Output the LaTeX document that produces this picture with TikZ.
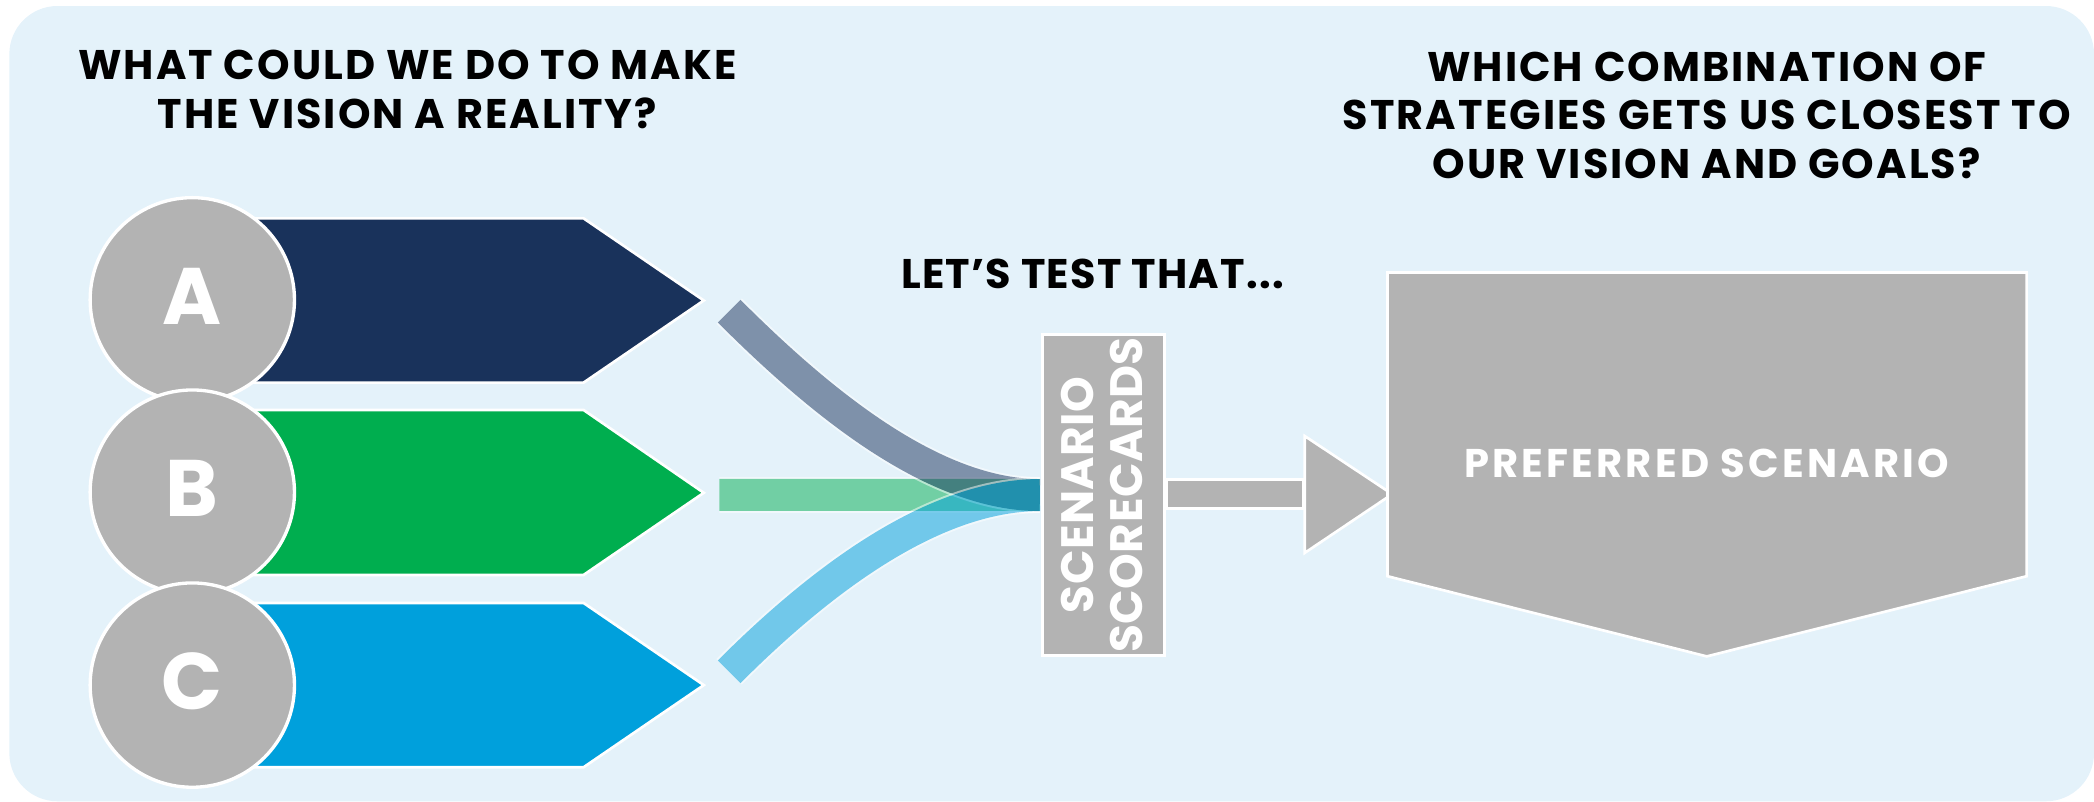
\documentclass[tikz,border=0pt]{standalone}
\usepackage{fontspec}
\setmainfont{Poppins}
\usetikzlibrary{calc}
\definecolor{bgblue}{HTML}{E4F2FA}
\definecolor{greyfill}{HTML}{B3B3B3}
\definecolor{navyA}{HTML}{19325B}
\definecolor{greenB}{HTML}{00AE4F}
\definecolor{blueC}{HTML}{00A0DC}
\begin{document}
\begin{tikzpicture}[x=1pt,y=-1pt,
  title/.style={font=\fontsize{31}{36.5}\selectfont\bfseries\addfontfeatures{LetterSpace=5}, align=center, text=black, inner sep=0, anchor=north},
  greyshape/.style={fill=greyfill, draw=white, line width=2pt},
  chev/.style={draw=white, line width=2pt},
  letter/.style={font=\fontsize{60}{60}\selectfont\bfseries, text=white, inner sep=0, anchor=base},
  circ/.style={circle, fill=greyfill, draw=white, line width=2.5pt, minimum size=153pt, inner sep=0},
  whitetext/.style={text=white, inner sep=0, align=center}
]
\useasboundingbox (0,0) rectangle (1568,600);
\fill[bgblue, rounded corners=36pt] (7,4.5) rectangle (1568,600);

% titles
\node[title] (t1) at (305,37.5) {WHAT COULD WE DO TO MAKE\\THE VISION A REALITY?};
\node[title] (t2) at (1278,38.5) {WHICH COMBINATION OF\\STRATEGIES GETS US CLOSEST TO\\OUR VISION AND GOALS?};
\node[title, font=\fontsize{31}{36.5}\selectfont\bfseries\addfontfeatures{LetterSpace=3}] (t3) at (818,193.5) {LET’S TEST THAT...};

% chevrons
\path[chev, fill=navyA] (150,163.5) -- (437,163.5) -- (527,225) -- (437,286.5) -- (150,286.5) -- cycle;
\path[chev, fill=greenB] (150,307) -- (437,307) -- (527,369) -- (437,430.5) -- (150,430.5) -- cycle;
\path[chev, fill=blueC] (150,451.5) -- (437,451.5) -- (527,513) -- (437,574.5) -- (150,574.5) -- cycle;

% circles
\node[circ] (ca) at (144,224.5) {};
\node[letter] (la) at (144,243) {A};
\node[circ] (cb) at (144,368.5) {};
\node[letter] (lb) at (144,387) {B};
\node[circ] (cc) at (144,513) {};
\node[letter] (lc) at (144,531.5) {C};

% scorecard box
\node[greyshape, minimum width=91.3pt, minimum height=240.5pt, inner sep=0] (sc) at (826.3,370.7) {};
\node[whitetext, rotate=90, font=\fontsize{34}{36.5}\selectfont\bfseries\addfontfeatures{LetterSpace=1}] (sct) at (825.3,370.7) {SCENARIO\\SCORECARDS};

% ribbons
\coordinate (a0) at (546,233);
\coordinate (b0) at (538.6,370.6);
\coordinate (c0) at (546,503);
\coordinate (sin) at ($(sc.west)+(-1,0)$);
\begin{scope}[transparency group, opacity=0.5]
  \draw[white, line width=27pt] (b0) -- (b0 -| sin);
  \draw[greenB, line width=24pt] (b0) -- (b0 -| sin);
\end{scope}
\begin{scope}[transparency group, opacity=0.5]
  \draw[white, line width=27pt] (a0) .. controls +(70,70) and +(-79,0) .. (sin);
  \draw[navyA, line width=24pt] (a0) .. controls +(70,70) and +(-79,0) .. (sin);
\end{scope}
\begin{scope}[transparency group, opacity=0.5]
  \draw[white, line width=27pt] (c0) .. controls +(70,-70) and +(-79,0) .. (sin);
  \draw[blueC, line width=24pt] (c0) .. controls +(70,-70) and +(-79,0) .. (sin);
\end{scope}

% arrow to preferred scenario
\path[greyshape] (873.5,359) rectangle (976,381);
\path[greyshape] (977,326.5) -- (1042.5,370) -- (977,414) -- cycle;

% preferred scenario
\path[greyshape] (1039,204) -- (1517.5,204) -- (1517.5,431.5) -- (1278,491.5) -- (1039,431.5) -- cycle;
\node[whitetext, font=\fontsize{30}{36.5}\selectfont\bfseries\addfontfeatures{LetterSpace=8}] (ps) at (1278,347) {PREFERRED SCENARIO};
\end{tikzpicture}
\end{document}
